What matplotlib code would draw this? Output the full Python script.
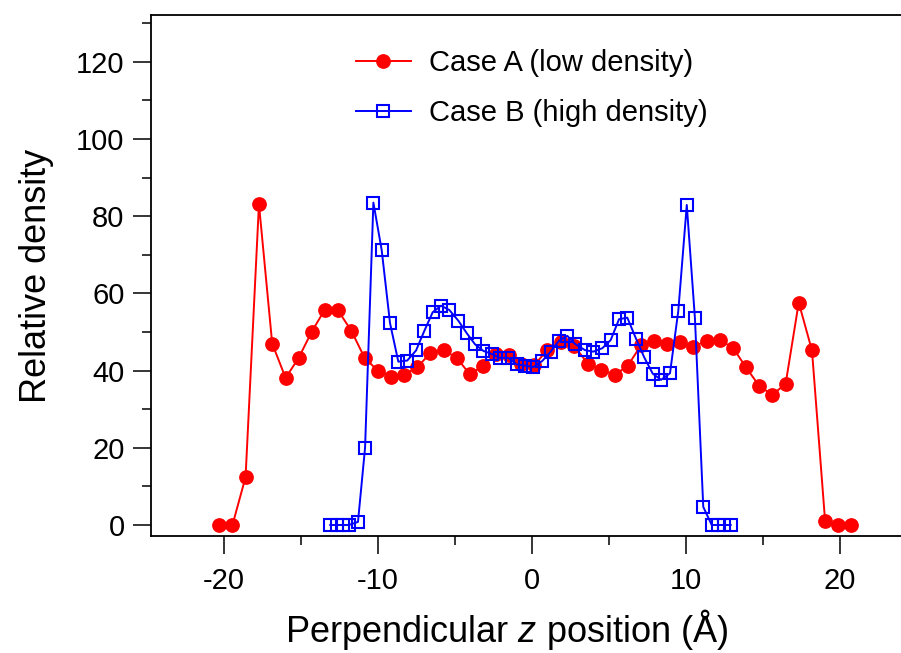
## Relative density profiles for two cases
'''
Plot relative density vs perpendicular z position
for case A (low density) and case B (high density)
'''

import matplotlib
matplotlib.use('Agg')
import matplotlib.pyplot as plt
from matplotlib.ticker import MultipleLocator

# case A, red circles
zA = [-20.3, -19.45, -18.6, -17.73, -16.87, -16.0, -15.15, -14.3, -13.45, -12.6,
      -11.73, -10.87, -10.02, -9.17, -8.31, -7.45, -6.6, -5.74, -4.89, -4.03,
      -3.18, -2.35, -1.47, -0.7, 0.15, 1.0, 1.88, 2.75, 3.65, 4.5,
      5.36, 6.21, 7.07, 7.92, 8.78, 9.63, 10.48, 11.34, 12.19, 13.05,
      13.9, 14.76, 15.61, 16.47, 17.32, 18.18, 19.03, 19.89, 20.74]
densA = [0, 0, 12.4, 83.1, 47.0, 38.1, 43.3, 50.1, 55.8, 55.6,
         50.3, 43.3, 40.0, 38.3, 38.9, 40.8, 44.6, 45.3, 43.3, 39.0,
         41.3, 44.3, 44.0, 41.8, 41.4, 45.4, 47.5, 46.3, 41.7, 40.2,
         38.9, 41.2, 46.5, 47.6, 46.9, 47.3, 46.2, 47.7, 47.9, 45.9,
         40.8, 36.0, 33.7, 36.6, 57.6, 45.2, 1.1, 0, 0]

# case B, blue open squares
zB = [-13.1, -12.68, -12.3, -11.9, -11.3, -10.84, -10.3, -9.76, -9.22, -8.68,
      -8.1, -7.53, -6.99, -6.45, -5.91, -5.37, -4.78, -4.24, -3.7, -3.16,
      -2.62, -2.08, -1.54, -1.0, -0.45, 0.08, 0.67, 1.21, 1.75, 2.29,
      2.79, 3.44, 3.98, 4.57, 5.11, 5.65, 6.19, 6.75, 7.29, 7.84,
      8.38, 8.96, 9.5, 10.05, 10.58, 11.12, 11.67, 12.1, 12.45, 12.9]
densB = [0, 0, 0, 0, 0.8, 20.0, 83.5, 71.2, 52.3, 42.3,
         42.6, 45.2, 50.3, 55.1, 56.8, 55.7, 52.9, 49.7, 46.8, 45.1,
         44.3, 43.3, 43.3, 41.6, 41.3, 40.9, 42.5, 44.9, 47.7, 49.0,
         46.9, 45.3, 44.9, 45.8, 47.9, 53.3, 53.7, 48.3, 43.4, 39.2,
         37.6, 39.3, 55.5, 82.9, 53.5, 4.7, 0, 0, 0, 0]

labelA = 'Case A (low density)'
labelB = 'Case B (high density)'


def setupFonts():
    plt.rcParams['font.family'] = ['Liberation Sans', 'DejaVu Sans']
    plt.rcParams['mathtext.fontset'] = 'custom'
    plt.rcParams['mathtext.rm'] = 'Liberation Sans'
    plt.rcParams['mathtext.it'] = 'Liberation Sans:italic'
    plt.rcParams['axes.unicode_minus'] = False  # plain hyphen like the original


def plotDensity():
    fig = plt.figure(figsize=(9.01, 6.53), dpi=100)
    ax = fig.add_axes([151 / 901, 1 - 536 / 653, 750 / 901, 521 / 653])

    ax.plot(zA, densA, color='#ff0000', lw=1.4, marker='o', ms=9.6,
            mec='#ff0000', mfc='#ff0000', label=labelA)
    ax.plot(zB, densB, color='#0000ff', lw=1.4, marker='s', ms=9.0,
            mec='#0000ff', mfc='none', mew=1.5, label=labelB)

    ax.set_xlim(-24.74, 23.96)
    ax.set_ylim(-2.85, 132.1)

    ax.xaxis.set_major_locator(MultipleLocator(10))
    ax.xaxis.set_minor_locator(MultipleLocator(5))
    ax.yaxis.set_major_locator(MultipleLocator(20))
    ax.yaxis.set_minor_locator(MultipleLocator(10))

    ax.tick_params(which='major', direction='out', length=13, width=1.1,
                   labelsize=21)
    ax.tick_params(which='minor', direction='out', length=6.5, width=1.1)
    ax.tick_params(axis='x', which='both', top=False)
    ax.tick_params(axis='y', which='both', right=False)
    ax.tick_params(axis='x', which='major', pad=9)
    ax.tick_params(axis='y', which='major', pad=6)

    for s in ['left', 'bottom', 'top']:
        ax.spines[s].set_linewidth(1.3)
    ax.spines['right'].set_visible(False)

    ax.set_xlabel('Perpendicular $z$ position (Å)', fontsize=26)
    ax.xaxis.set_label_coords(0.475, -0.137)
    ax.set_ylabel('Relative density', fontsize=26, labelpad=16)

    ax.legend(loc='upper left', bbox_to_anchor=(0.238, 0.985),
              frameon=False, fontsize=21, handlelength=1.9,
              labelspacing=0.75, handletextpad=0.6)

    fig.savefig('out.png', dpi=100)


def main():
    setupFonts()
    plotDensity()


if __name__ == "__main__":
    main()
